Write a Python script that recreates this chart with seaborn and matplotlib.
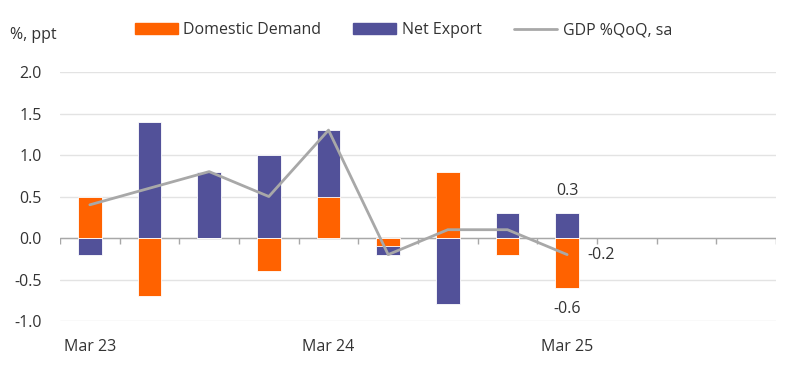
import numpy as np
import pandas as pd
import seaborn as sns
import matplotlib.pyplot as plt
from matplotlib.patches import Patch
from matplotlib.lines import Line2D

quarters = ["Mar 23", "Jun 23", "Sep 23", "Dec 23", "Mar 24", "Jun 24",
            "Sep 24", "Dec 24", "Mar 25", "Jun 25", "Sep 25", "Dec 25"]
domestic = [0.5, -0.7, 0.0, -0.4, 0.5, -0.1, 0.8, -0.2, -0.6]
net_export = [-0.2, 1.4, 0.8, 1.0, 0.8, -0.1, -0.8, 0.3, 0.3]
gdp = [0.4, 0.6, 0.8, 0.5, 1.3, -0.2, 0.1, 0.1, -0.2]
shown_ticks = ["Mar 23", "Mar 24", "Mar 25"]
yticks = [-1.0, -0.5, 0.0, 0.5, 1.0, 1.5, 2.0]

ORANGE = "#FF6200"
PURPLE = "#525199"
GREY = "#A8A8A8"
TEXT = "#333333"
FS = 11.5

sns.set_style("white")
plt.rcParams["font.family"] = ["Open Sans", "DejaVu Sans"]
plt.rcParams["axes.unicode_minus"] = False

fig = plt.figure(figsize=(8, 3.68), dpi=100)
ax = fig.add_axes([0.075, 0.1277, 0.895, 0.6766])

n = len(domestic)
# stacked: net export sits on top of domestic demand when same sign
nx_top = [d + x if d * x > 0 else x for d, x in zip(domestic, net_export)]
df = pd.DataFrame({"q": quarters[:n], "dd": domestic, "nx": nx_top, "gdp": gdp})

sns.barplot(data=df, x="q", y="nx", order=quarters, color=PURPLE, saturation=1,
            width=0.4, edgecolor="white", linewidth=0.6, ax=ax, zorder=2)
sns.barplot(data=df, x="q", y="dd", order=quarters, color=ORANGE, saturation=1,
            width=0.4, edgecolor="white", linewidth=0.6, ax=ax, zorder=3)
sns.lineplot(x=np.arange(n), y=df["gdp"], color=GREY, lw=2, ax=ax, zorder=4)

ax.set_xlim(-0.5, len(quarters) - 0.5)
ax.set_ylim(-1.0, 2.0)
ax.set_yticks(yticks)
ax.set_yticklabels([f"{v:.1f}" for v in yticks])
ax.set_xticks([quarters.index(q) for q in shown_ticks])
ax.set_xticklabels(shown_ticks)
ax.set_xlabel("")
ax.set_ylabel("")
ax.tick_params(axis="both", length=0, labelsize=FS, labelcolor=TEXT)
ax.tick_params(axis="x", pad=13)
ax.tick_params(axis="y", pad=13)
for s in ax.spines.values():
    s.set_visible(False)
ax.set_axisbelow(True)
ax.yaxis.grid(True, color="#E3E3E3", lw=1)
ax.axhline(0, color=GREY, lw=1, zorder=1.5)
ax.vlines(np.arange(-0.5, len(quarters), 1), -0.075, 0, color=GREY, lw=1, zorder=1.5)

last = n - 1
ax.annotate(f"{net_export[last]:.1f}", (last, nx_top[last]), xytext=(0, 16),
            textcoords="offset points", ha="center", va="center", fontsize=FS, color=TEXT)
ax.annotate(f"{domestic[last]:.1f}", (last, domestic[last]), xytext=(0, -15.5),
            textcoords="offset points", ha="center", va="center", fontsize=FS, color=TEXT)
ax.annotate(f"{gdp[last]:.1f}", (last, gdp[last]), xytext=(14.5, 0),
            textcoords="offset points", ha="left", va="center", fontsize=FS, color=TEXT)

handles = [Patch(color=ORANGE), Patch(color=PURPLE), Line2D([], [], color=GREY, lw=2)]
labels = ["Domestic Demand", "Net Export", "GDP %QoQ, sa"]
fig.legend(handles, labels, loc="center", bbox_to_anchor=(0.504, 0.918), ncol=3,
           frameon=False, fontsize=FS, handlelength=2.7, handleheight=0.6,
           handletextpad=0.35, columnspacing=2.0, labelcolor=TEXT)

fig.text(0.012, 0.905, "%, ppt", fontsize=FS, color=TEXT, ha="left", va="center")

fig.savefig("out.png", dpi=100)
